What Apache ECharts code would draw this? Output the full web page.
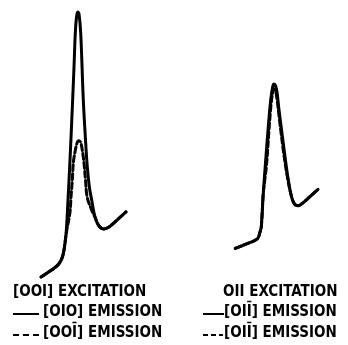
<!DOCTYPE html>
<html>
<head>
<meta charset="utf-8">
<script src="https://cdn.jsdelivr.net/npm/echarts@6/dist/echarts.min.js"></script>
<style>
  html, body { margin: 0; padding: 0; background: #fff; }
  #main { width: 348px; height: 345px; }
</style>
</head>
<body>
<div id="main"></div>
<script>
// 左图 [001] 激发：x 为相对波长，y 为相对强度
var solid001 = [
    [11, 1.1], [20, 3.3], [28, 5.6], [32, 8.1], [34, 11.1], [36, 16.7], [38, 29.6],
    [40, 44.4], [42, 61.1], [44, 78.9], [45.3, 91.5], [46.5, 97.4], [47.7, 99.3],
    [49, 98.5], [50.7, 91.5], [53.3, 66.7], [55.5, 51.9], [57.3, 41.9], [59.5, 34.1],
    [61.7, 29.6], [65, 23.3], [69, 20], [74, 18.9], [79, 19.6], [87, 22.2], [96, 25.2]
];
var dashed001 = [
    [11, 1.1], [20, 3.3], [28, 5.6], [32, 8.1], [34, 11.1], [36, 16.7], [40, 25.2],
    [41, 30.7], [42.3, 37], [43.3, 43.3], [45, 47.4], [47, 50.7], [48.7, 51.6],
    [50.5, 51.1], [52.3, 48.1], [54, 43.3], [55.5, 37], [57.2, 30.7], [62, 25.6],
    [65, 23.3], [69, 20], [74, 18.9], [79, 19.6], [87, 22.2], [96, 25.2]
];
// 右图 011 激发
var solid011 = [
    [15.3, 11.7], [26, 13.3], [37.3, 15.2], [40, 17.8], [41.3, 19.7], [43.3, 32.2],
    [45.7, 44.4], [48.3, 56.8], [50.7, 66.7], [52.7, 71.6], [54, 72.6], [55.5, 72],
    [57, 69.6], [59, 63], [63.3, 50.6], [67.3, 39.5], [70.7, 32.1], [74, 28.4],
    [78, 27.5], [82.3, 28.4], [90, 30.9], [98, 33.6]
];
var dashed011 = [
    [15.3, 11.7], [26, 13.3], [37.3, 15.2], [40, 17.8], [41.3, 19.7], [43.3, 32.2],
    [46.5, 42.6], [49, 55.6], [51.2, 65.6], [52.8, 69.6], [54, 70.7], [55.3, 70.4],
    [57, 67], [59.5, 59.3], [63, 48.9], [66.5, 40], [70.7, 32.1], [74, 28.4],
    [78, 27.5], [82.3, 28.4], [90, 30.9], [98, 33.6]
];

var leftLabels = ['[OOI] EXCITATION', '[OIO] EMISSION', '[OOĪ] EMISSION'];
var rightLabels = ['OII EXCITATION', '[OIĪ] EMISSION', '[OIĪ] EMISSION'];

var myChart = echarts.init(document.getElementById('main'));
var font = '"DejaVu Sans Condensed", "DejaVu Sans", sans-serif';

function lineSeries(data, idx, dashed) {
    return {
        type: 'line',
        xAxisIndex: idx,
        yAxisIndex: idx,
        data: data,
        smooth: 0.35,
        symbol: 'none',
        silent: true,
        lineStyle: {
            color: '#000',
            width: 3,
            type: dashed ? [6, 3] : 'solid',
            cap: 'round',
            join: 'round'
        },
        z: dashed ? 3 : 2
    };
}

function label(text, x, y) {
    return {
        type: 'text',
        left: x,
        top: y - 9,
        style: {
            text: text,
            fill: '#000',
            font: 'bold 15px ' + font
        }
    };
}

var option = {
    backgroundColor: '#fff',
    animation: false,
    grid: [
        { left: 30, top: 10, width: 100, height: 270 },
        { left: 220, top: 10, width: 100, height: 270 }
    ],
    xAxis: [
        { type: 'value', gridIndex: 0, min: 0, max: 100, show: false },
        { type: 'value', gridIndex: 1, min: 0, max: 100, show: false }
    ],
    yAxis: [
        { type: 'value', gridIndex: 0, min: 0, max: 100, show: false },
        { type: 'value', gridIndex: 1, min: 0, max: 100, show: false }
    ],
    series: [
        lineSeries(solid001, 0, false),
        lineSeries(dashed001, 0, true),
        lineSeries(solid011, 1, false),
        lineSeries(dashed011, 1, true)
    ],
    graphic: [
        label(leftLabels[0], 13, 294),
        { type: 'line', shape: { x1: 13, y1: 314, x2: 39, y2: 314 }, style: { stroke: '#000', lineWidth: 2 } },
        label(leftLabels[1], 43, 314),
        { type: 'line', shape: { x1: 13, y1: 335, x2: 39, y2: 335 }, style: { stroke: '#000', lineWidth: 2, lineDash: [6, 4] } },
        label(leftLabels[2], 43, 335),
        label(rightLabels[0], 223, 294),
        { type: 'line', shape: { x1: 203, y1: 314, x2: 224, y2: 314 }, style: { stroke: '#000', lineWidth: 2 } },
        label(rightLabels[1], 224, 314),
        { type: 'line', shape: { x1: 203, y1: 335, x2: 223, y2: 335 }, style: { stroke: '#000', lineWidth: 2, lineDash: [5, 3] } },
        label(rightLabels[2], 224, 335)
    ]
};

myChart.setOption(option);
</script>
</body>
</html>
